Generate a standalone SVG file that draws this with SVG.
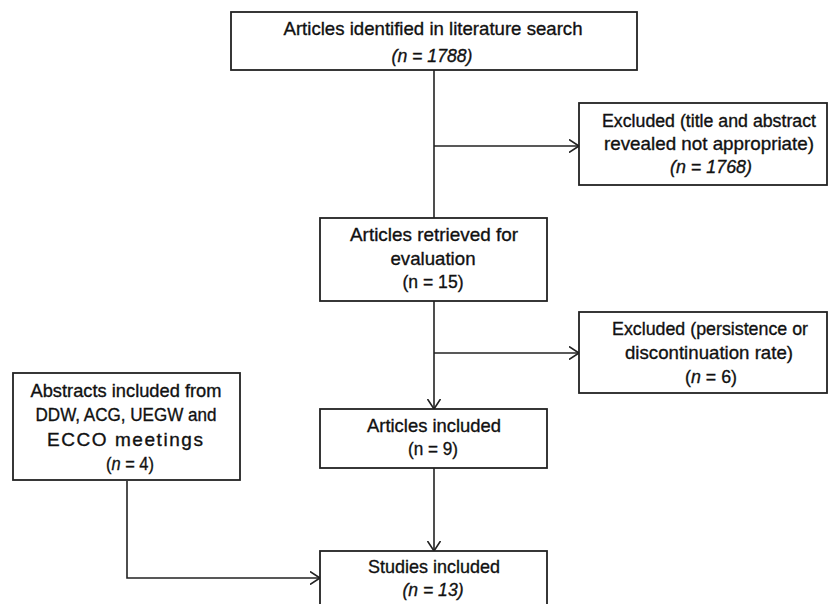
<svg xmlns="http://www.w3.org/2000/svg" width="829" height="604" viewBox="0 0 829 604">
<style>
.box{fill:#fff;stroke:#222;stroke-width:1.8}
.ln{fill:none;stroke:#222;stroke-width:1.6}
text{font-family:"Liberation Sans",Arial,sans-serif;font-size:19px;fill:#111;stroke:#111;stroke-width:0.35;text-anchor:middle}
.i{font-style:italic}
</style>
<defs>
<marker id="ah" viewBox="0 0 10 14" refX="10" refY="7" markerWidth="10" markerHeight="14" markerUnits="userSpaceOnUse" orient="auto">
<path d="M0,0.5 L10,7 L0,13.5" fill="none" stroke="#222" stroke-width="1.6"/>
</marker>
</defs>
<rect width="829" height="604" fill="#fff"/>
<g id="connectors">
<line class="ln" x1="434" y1="70" x2="434" y2="218"/>
<line class="ln" x1="434" y1="146" x2="579" y2="146" marker-end="url(#ah)"/>
<line class="ln" x1="434" y1="301" x2="434" y2="409" marker-end="url(#ah)"/>
<line class="ln" x1="434" y1="353" x2="579" y2="353" marker-end="url(#ah)"/>
<line class="ln" x1="434" y1="468" x2="434" y2="551" marker-end="url(#ah)"/>
<polyline class="ln" points="127,481 127,578 320,578" marker-end="url(#ah)"/>
</g>
<g id="n1">
<rect class="box" x="231" y="12" width="406" height="58"/>
<text x="433" y="35" textLength="299" lengthAdjust="spacingAndGlyphs">Articles identified in literature search</text>
<text x="432" y="62" class="i" textLength="81" lengthAdjust="spacingAndGlyphs">(n = 1788)</text>
</g>
<g id="n2">
<rect class="box" x="579" y="103" width="248" height="82"/>
<text x="709" y="127" style="font-size:17.5px" textLength="214" lengthAdjust="spacingAndGlyphs">Excluded (title and abstract</text>
<text x="709" y="150" textLength="210" lengthAdjust="spacingAndGlyphs">revealed not appropriate)</text>
<text x="711" y="173" class="i" textLength="82" lengthAdjust="spacingAndGlyphs">(n = 1768)</text>
</g>
<g id="n3">
<rect class="box" x="320" y="218" width="227" height="83"/>
<text x="434" y="241" textLength="168" lengthAdjust="spacingAndGlyphs">Articles retrieved for</text>
<text x="433" y="265" textLength="85" lengthAdjust="spacingAndGlyphs">evaluation</text>
<text x="433" y="288" textLength="61" lengthAdjust="spacingAndGlyphs">(n = 15)</text>
</g>
<g id="n4">
<rect class="box" x="579" y="312" width="248" height="81"/>
<text x="710" y="335" textLength="196" lengthAdjust="spacingAndGlyphs">Excluded (persistence or</text>
<text x="709" y="359" textLength="168" lengthAdjust="spacingAndGlyphs">discontinuation rate)</text>
<text x="711" y="383" textLength="52" lengthAdjust="spacingAndGlyphs">(<tspan class="i">n</tspan> = 6)</text>
</g>
<g id="n5">
<rect class="box" x="13" y="373" width="227" height="107"/>
<text x="126" y="397" textLength="191" lengthAdjust="spacingAndGlyphs">Abstracts included from</text>
<text x="126" y="421" textLength="181" lengthAdjust="spacingAndGlyphs">DDW, ACG, UEGW and</text>
<text x="125" y="446" textLength="156" lengthAdjust="spacing">ECCO meetings</text>
<text x="130" y="470" textLength="48" lengthAdjust="spacingAndGlyphs">(<tspan class="i">n</tspan> = 4)</text>
</g>
<g id="n6">
<rect class="box" x="320" y="409" width="227" height="59"/>
<text x="434" y="432" textLength="134" lengthAdjust="spacingAndGlyphs">Articles included</text>
<text x="433" y="455" textLength="50" lengthAdjust="spacingAndGlyphs">(n = 9)</text>
</g>
<g id="n7">
<rect class="box" x="320" y="551" width="227" height="60"/>
<text x="434" y="573" textLength="132" lengthAdjust="spacingAndGlyphs">Studies included</text>
<text x="433" y="596" class="i" textLength="61" lengthAdjust="spacingAndGlyphs">(n = 13)</text>
</g>
</svg>
